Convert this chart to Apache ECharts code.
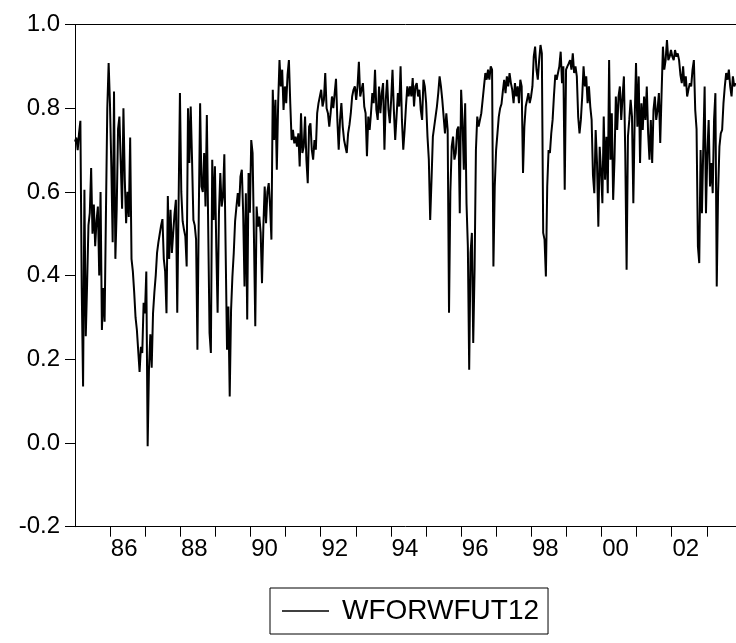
<!DOCTYPE html>
<html>
<head>
<meta charset="utf-8">
<script src="https://cdn.jsdelivr.net/npm/echarts@6/dist/echarts.min.js"></script>
<style>
  html, body { margin: 0; padding: 0; background: #fff; }
  #chart { width: 736px; height: 643px; }
</style>
</head>
<body>
<div id="chart"></div>
<script>
// Series WFORWFUT12, sampled every two weeks starting January 1985
const seriesName = 'WFORWFUT12';
const startYear = 1985;
const stepYears = 14 / 365.25;

const part1 = [0.72,0.73,0.70,0.74,0.77,0.37,0.135,0.605,0.255,0.38,0.52,0.55,0.657,0.50,0.57,0.47,0.53,0.565,0.40,0.60,
  0.27,0.37,0.29,0.55,0.80,0.908,0.81,0.66,0.48,0.84,0.44,0.56,0.75,0.78,0.67,0.56,0.80,0.63,0.525,0.60,
  0.54,0.73,0.44,0.41,0.36,0.30,0.27,0.22,0.17,0.23,0.215,0.335,0.31,0.41,-0.008,0.18,0.26,0.18,0.31,0.36,
  0.40,0.455,0.48,0.50,0.52,0.535,0.44,0.41,0.31,0.59];
const part2 = [0.44,0.557,0.454,0.502,0.549,0.581,0.311,0.573,0.836,0.60,0.53,0.51,0.494,0.422,0.80,0.669,0.804,0.677,0.533,0.52,
  0.486,0.223,0.549,0.812,0.613,0.60,0.693,0.565,0.784,0.517,0.263,0.215,0.677,0.533,0.661,0.47,0.311,0.549,0.645,0.565,
  0.589,0.69,0.454,0.223,0.326,0.111,0.318,0.398,0.454,0.53,0.565,0.597,0.565,0.637,0.653,0.549,0.374,0.597,0.295,0.645,
  0.55,0.724,0.693,0.494,0.279,0.565,0.517,0.541,0.502];
const part3 = [0.382,0.517,0.613,0.525,0.60,0.621,0.565,0.486,0.844,0.724,0.82,0.653,0.812,0.915,0.852,0.892,0.796,0.852,0.812,0.880,
  0.915,0.812,0.724,0.748,0.716,0.732,0.708,0.740,0.661,0.788,0.693,0.708,0.780,0.677,0.621,0.756,0.764,0.701,0.677,0.724,
  0.701,0.788,0.812,0.828,0.844,0.804,0.820,0.884,0.80,0.788,0.756,0.788,0.828,0.80,0.804,0.870,0.772,0.701,0.772,0.812,
  0.756,0.724,0.708,0.693,0.740,0.760,0.788,0.828,0.844];
const part4 = [0.852,0.820,0.852,0.911,0.828,0.844,0.860,0.804,0.788,0.685,0.780,0.748,0.788,0.836,0.812,0.892,0.796,0.772,0.852,0.788,
  0.836,0.860,0.701,0.820,0.868,0.796,0.764,0.820,0.892,0.796,0.724,0.780,0.836,0.804,0.900,0.772,0.701,0.748,0.804,0.852,
  0.828,0.852,0.828,0.872,0.804,0.852,0.860,0.828,0.844,0.796,0.772,0.868,0.852,0.812,0.732,0.677,0.533,0.629,0.732,0.756,
  0.780,0.804,0.836,0.876,0.852,0.820,0.780,0.740,0.788];
const part5 = [0.748,0.311,0.60,0.708,0.732,0.677,0.693,0.748,0.756,0.549,0.844,0.772,0.653,0.812,0.573,0.470,0.175,0.454,0.502,0.239,
  0.414,0.70,0.780,0.756,0.772,0.788,0.820,0.852,0.884,0.868,0.892,0.868,0.900,0.892,0.422,0.613,0.700,0.740,0.780,0.800,
  0.810,0.840,0.868,0.836,0.876,0.852,0.884,0.860,0.844,0.812,0.860,0.828,0.852,0.812,0.868,0.852,0.645,0.756,0.804,0.820,
  0.836,0.812,0.828,0.852,0.924,0.947,0.892,0.868,0.915];
const part6 = [0.951,0.931,0.502,0.486,0.398,0.613,0.70,0.693,0.740,0.772,0.830,0.880,0.868,0.884,0.900,0.935,0.860,0.900,0.605,0.892,
  0.900,0.907,0.915,0.892,0.931,0.884,0.900,0.876,0.780,0.740,0.772,0.828,0.900,0.852,0.876,0.812,0.852,0.804,0.772,0.640,
  0.597,0.748,0.669,0.517,0.708,0.65,0.573,0.780,0.629,0.732,0.597,0.915,0.677,0.788,0.581,0.677,0.828,0.748,0.828,0.852,
  0.772,0.828,0.876,0.693,0.414,0.732,0.772,0.820,0.780,0.573];
const part7 = [0.772,0.908,0.756,0.876,0.669,0.812,0.748,0.828,0.772,0.852,0.740,0.677,0.772,0.669,0.796,0.828,0.772,0.796,0.836,0.717,
  0.836,0.947,0.892,0.915,0.963,0.915,0.923,0.939,0.923,0.915,0.939,0.923,0.931,0.915,0.880,0.860,0.900,0.852,0.876,0.828,
  0.845,0.860,0.852,0.892,0.915,0.796,0.75,0.470,0.430,0.70,0.549,0.708,0.852,0.549,0.693,0.772,0.613,0.669,0.597,0.772,
  0.836,0.374,0.600,0.708,0.740,0.748,0.812,0.852,0.884,0.868,0.892,0.852,0.828,0.876,0.852,0.860];

const values = [].concat(part1, part2, part3, part4, part5, part6, part7);

// axis ticks and labels
const tickYears = [1986,1987,1988,1989,1990,1991,1992,1993,1994,1995,1996,1997,1998,1999,2000,2001,2002,2003];
const labelYears = [1986,1988,1990,1992,1994,1996,1998,2000,2002];
const labelOffset = 0.4; // labels sit inside the year they name
const yTicks = { min: -0.2, max: 1.0, step: 0.2 };
const xRange = { min: 1985, max: 2003.832 };

const data = values.map((v, i) => [startYear + i * stepYears, v]);

const FONT = '"Liberation Sans", Arial, sans-serif';
const chart = echarts.init(document.getElementById('chart'), null, { renderer: 'canvas' });
chart.setOption({
  animation: false,
  backgroundColor: '#fff',
  grid: { left: 75, top: 24.5, right: 0, bottom: 116.3 },
  legend: {
    data: [{ name: seriesName, icon: 'rect' }],
    left: 270, top: 588,
    padding: [9, 9, 9, 12],
    borderColor: '#000', borderWidth: 1,
    itemWidth: 47, itemHeight: 1.6,
    itemStyle: { color: '#000' },
    textStyle: { fontSize: 28, color: '#000', fontFamily: FONT, padding: [0, 0, 0, 8] }
  },
  xAxis: [
    {
      type: 'value', min: xRange.min, max: xRange.max, position: 'bottom',
      axisLine: { show: true, onZero: false, lineStyle: { color: '#000', width: 1 } },
      axisTick: { show: true, inside: false, length: 10, customValues: tickYears,
        lineStyle: { color: '#000', width: 1 } },
      axisLabel: {
        show: true, margin: 11, fontSize: 24, color: '#000', fontFamily: FONT,
        customValues: labelYears.map(y => y + labelOffset),
        formatter: v => String(Math.floor(v)).slice(2)
      },
      splitLine: { show: false }
    },
    {
      type: 'value', min: xRange.min, max: xRange.max, position: 'top',
      axisLine: { show: true, onZero: false, lineStyle: { color: '#000', width: 1 } },
      axisTick: { show: false }, axisLabel: { show: false }, splitLine: { show: false }
    }
  ],
  yAxis: {
    type: 'value', min: yTicks.min, max: yTicks.max, interval: yTicks.step,
    axisLine: { show: true, lineStyle: { color: '#000', width: 1 } },
    axisTick: { show: true, inside: false, length: 10, lineStyle: { color: '#000', width: 1 } },
    axisLabel: { margin: 15, fontSize: 24, color: '#000', fontFamily: FONT,
      formatter: v => v.toFixed(1) },
    splitLine: { show: false }
  },
  series: [{
    name: seriesName, type: 'line', data: data, xAxisIndex: 0,
    symbol: 'none', showSymbol: false,
    lineStyle: { color: '#000', width: 2 },
    itemStyle: { color: '#000' }
  }]
});
</script>
</body>
</html>
